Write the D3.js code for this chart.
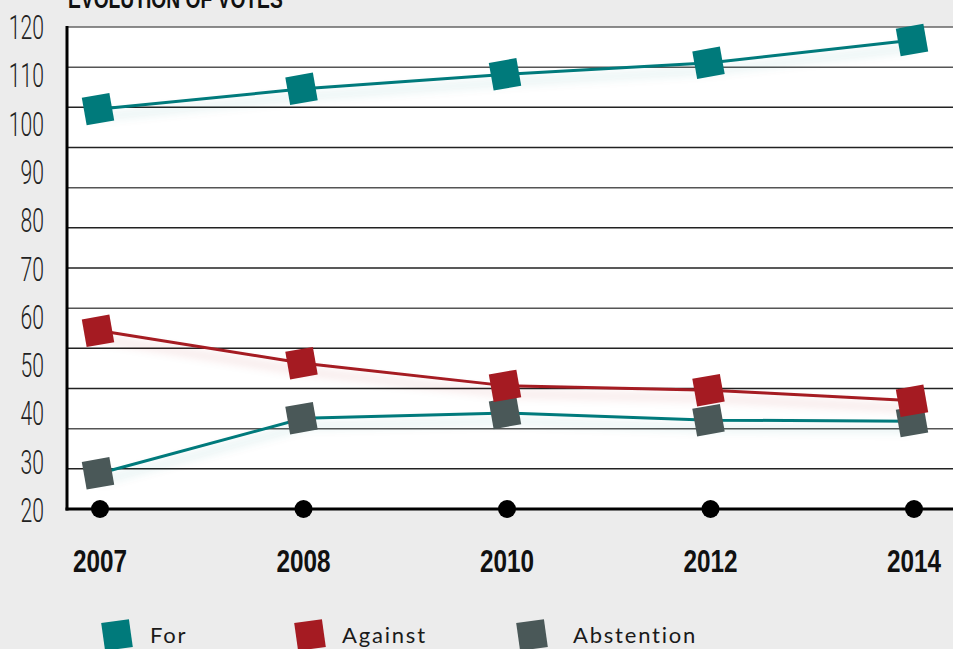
<!DOCTYPE html>
<html><head><meta charset="utf-8">
<script src="https://cdn.jsdelivr.net/npm/d3@7"></script>
<style>body{margin:0;background:#ececec;overflow:hidden} svg{display:block}</style>
</head><body>
<svg id="c" width="953" height="649"></svg>
<script>
const title = "EVOLUTION OF VOTES";
const years = ["2007", "2008", "2010", "2012", "2014"];
const forVotes = [103.0, 107.2, 110.2, 112.6, 117.3];
const againstVotes = [57.1, 50.4, 45.7, 44.8, 42.6];
const abstentionVotes = [27.6, 39.0, 40.1, 38.6, 38.4];
const yTickLabels = [120, 110, 100, 90, 80, 70, 60, 50, 40, 30, 20];
const seriesNames = ["For", "Against", "Abstention"];

const series = [
  {name: seriesNames[2], values: abstentionVotes, line: "#007a7b", marker: "#4a5858"},
  {name: seriesNames[1], values: againstVotes, line: "#a51b22", marker: "#a51b22"},
  {name: seriesNames[0], values: forVotes, line: "#007a7b", marker: "#007a7b"}
];

const svg = d3.select("#c");
const pLeft = 67, pTop = 27, pBottom = 509, pRight = 953;

const x = d3.scalePoint().domain(years).range([100, 914]);
const y = d3.scaleLinear().domain([20, 120]).range([510, 27]);
const grid = d3.scaleLinear().domain([0, 12]).range([pBottom, pTop]);

const defs = svg.append("defs");
series.forEach((s, i) => {
  defs.append("filter").attr("id", "sh" + i)
    .attr("x", "-10%").attr("y", "-100%").attr("width", "120%").attr("height", "400%")
    .append("feDropShadow").attr("dx", 0).attr("dy", 8).attr("stdDeviation", 5)
    .attr("flood-color", s.line).attr("flood-opacity", 0.22);
});

// plot background
svg.append("rect").attr("x", pLeft).attr("y", pTop).attr("width", pRight - pLeft).attr("height", pBottom - pTop).attr("fill", "#fff");

// gridlines
svg.append("g").selectAll("line").data(d3.range(1, 13)).join("line")
  .attr("x1", pLeft).attr("x2", pRight)
  .attr("y1", d => grid(d)).attr("y2", d => grid(d))
  .attr("stroke", (d, i) => d === 12 ? "#666" : (i % 3 === 1 ? "#555" : "#222"))
  .attr("stroke-width", 1.5);

// axes
svg.append("line").attr("x1", pLeft).attr("x2", pLeft).attr("y1", pTop - 1).attr("y2", pBottom + 1.5)
  .attr("stroke", "#000").attr("stroke-width", 3);
svg.append("line").attr("x1", pLeft - 1.5).attr("x2", pRight).attr("y1", pBottom).attr("y2", pBottom)
  .attr("stroke", "#000").attr("stroke-width", 3);

// y labels
svg.append("g").selectAll("text").data(yTickLabels).join("text")
  .attr("transform", d => `translate(44,${y(d) + 12}) scale(0.64,1)`)
  .attr("text-anchor", "end")
  .attr("font-family", "Roboto, 'Liberation Sans', sans-serif")
  .attr("font-weight", 300)
  .attr("font-size", 33).attr("fill", "#222")
  .text(d => d);

// x dots
svg.append("g").selectAll("circle").data(years).join("circle")
  .attr("cx", d => x(d)).attr("cy", pBottom).attr("r", 9).attr("fill", "#000");

// x labels
svg.append("g").selectAll("text").data(years).join("text")
  .attr("transform", d => `translate(${x(d)},${572}) scale(0.76,1)`)
  .attr("text-anchor", "middle")
  .attr("font-family", "Liberation Sans, Arial, sans-serif")
  .attr("font-weight", "bold").attr("font-size", 32).attr("fill", "#111")
  .text(d => d);

// title (cut at the top, as in the original)
svg.append("text")
  .attr("transform", "translate(68,8) scale(0.74,1)")
  .attr("font-family", "Liberation Sans, Arial, sans-serif")
  .attr("font-weight", "bold").attr("font-size", 26).attr("fill", "#111")
  .text(title);

// lines
const line = d3.line().x((d, i) => x(years[i])).y(d => y(d));
series.forEach((s, i) => {
  svg.append("path").datum(s.values)
    .attr("d", line).attr("fill", "none")
    .attr("stroke", s.line).attr("stroke-width", 3)
    .attr("filter", `url(#sh${i})`);
});

// markers
const side = 28;
series.forEach(s => {
  svg.append("g").selectAll("rect").data(s.values).join("rect")
    .attr("x", -side / 2).attr("y", -side / 2).attr("width", side).attr("height", side)
    .attr("transform", (d, i) => `translate(${x(years[i]) - 2},${y(d)}) rotate(-10)`)
    .attr("fill", s.marker);
});

// legend
const legendItems = [series[2], series[1], series[0]];
const legendX = [117, 310, 532];
const legendTextX = [150, 342, 573];
const lg = svg.append("g").selectAll("g").data(legendItems).join("g");
lg.append("rect").attr("x", -side / 2).attr("y", -side / 2).attr("width", side).attr("height", side)
  .attr("transform", (d, i) => `translate(${legendX[i]},635) rotate(-8)`).attr("fill", d => d.marker);
lg.append("text").attr("x", (d, i) => legendTextX[i]).attr("y", 642.5)
  .attr("font-family", "Lato, 'Open Sans', sans-serif").attr("font-size", 22)
  .attr("letter-spacing", 1.8).attr("fill", "#1a1a1a")
  .text(d => d.name);
</script>
</body></html>
